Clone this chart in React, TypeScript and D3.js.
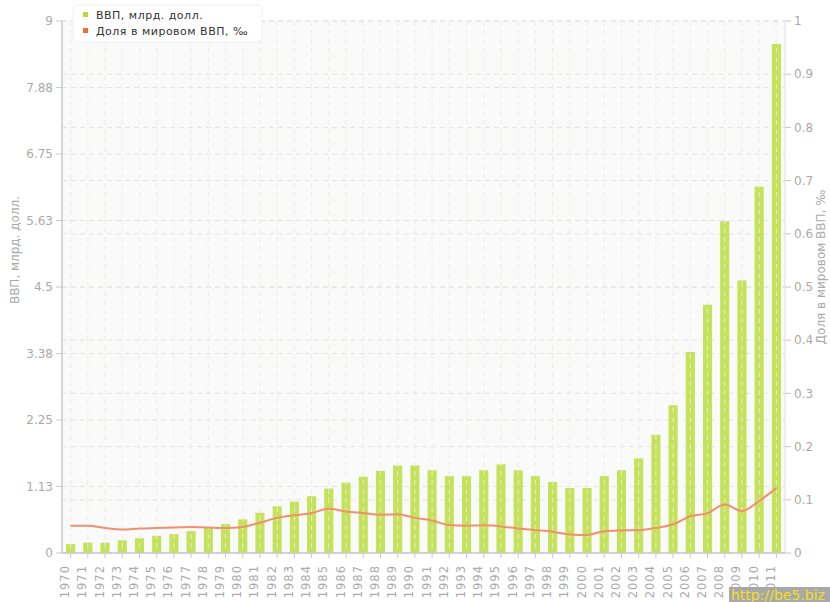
import React from "react";
import * as d3 from "d3";

const years = [
  "1970","1971","1972","1973","1974","1975","1976","1977","1978","1979",
  "1980","1981","1982","1983","1984","1985","1986","1987","1988","1989",
  "1990","1991","1992","1993","1994","1995","1996","1997","1998","1999",
  "2000","2001","2002","2003","2004","2005","2006","2007","2008","2009",
  "2010","2011",
];
const gdp = [
  0.15, 0.175, 0.175, 0.215, 0.25, 0.29, 0.32, 0.37, 0.43, 0.49,
  0.57, 0.68, 0.79, 0.87, 0.96, 1.09, 1.19, 1.29, 1.39, 1.48,
  1.48, 1.4, 1.3, 1.3, 1.4, 1.5, 1.4, 1.3, 1.2, 1.1,
  1.1, 1.3, 1.4, 1.6, 2.0, 2.5, 3.4, 4.2, 5.61, 4.61,
  6.2, 8.61,
];
const share = [
  0.051, 0.051, 0.047, 0.044, 0.046, 0.047, 0.048, 0.049, 0.048, 0.047,
  0.049, 0.057, 0.066, 0.071, 0.075, 0.083, 0.078, 0.075, 0.072, 0.073,
  0.066, 0.061, 0.0525, 0.051, 0.052, 0.05, 0.046, 0.043, 0.04, 0.035,
  0.034, 0.041, 0.0425, 0.043, 0.047, 0.054, 0.069, 0.075, 0.091, 0.079,
  0.098, 0.122,
];
const leftTicks = [0, 1.13, 2.25, 3.38, 4.5, 5.63, 6.75, 7.88, 9];
const leftTickValues = [0, 1.125, 2.25, 3.375, 4.5, 5.625, 6.75, 7.875, 9];
const rightTicks = [0, 0.1, 0.2, 0.3, 0.4, 0.5, 0.6, 0.7, 0.8, 0.9, 1];
const legendLabels = ["ВВП, млрд. долл.", "Доля в мировом ВВП, ‰"];
const leftTitle = "ВВП, млрд. долл.";
const rightTitle = "Доля в мировом ВВП, ‰";

const W = 830;
const H = 602;
const left = 62;
const right = 785;
const top = 21;
const bottom = 553;

const font = "'DejaVu Sans', Verdana, sans-serif";
const gridColor = "#e4e4e4";
const labelColor = "#aaaaaa";
const barColor = "#c6e15a";
const lineColor = "#f09070";

export default function App() {
  const x = d3.scaleBand<string>().domain(years).range([left, right]).padding(0);
  const yL = d3.scaleLinear().domain([0, 9]).range([bottom, top]);
  const yR = d3.scaleLinear().domain([0, 1]).range([bottom, top]);
  const bw = x.bandwidth() * 0.53;
  const cx = (y: string) => (x(y) as number) + x.bandwidth() / 2;

  const line = d3
    .line<number>()
    .x((_, i) => cx(years[i]))
    .y((d) => yR(d))
    .curve(d3.curveMonotoneX);

  return (
    <svg width={W} height={H} style={{ position: "absolute", left: 0, top: 0, display: "block" }}>
      <rect x={0} y={0} width={W} height={H} fill="#ffffff" />
      <rect x={left} y={top} width={right - left} height={bottom - top} fill="#fafafa" />
      {leftTickValues.map((v, i) => (
        <line key={"hl" + i} x1={left} x2={right} y1={yL(v)} y2={yL(v)} stroke={gridColor} strokeDasharray="5,4" />
      ))}
      {rightTicks.map((v, i) => (
        <line key={"hr" + i} x1={left} x2={right} y1={yR(v)} y2={yR(v)} stroke={gridColor} strokeDasharray="5,4" />
      ))}
      {gdp.map((v, i) => (
        <rect
          key={"b" + i}
          x={cx(years[i]) - bw / 2}
          y={yL(v)}
          width={bw}
          height={bottom - yL(v)}
          fill={barColor}
        />
      ))}
      {years.map((yv) => (
        <line
          key={"v" + yv}
          x1={cx(yv)}
          x2={cx(yv)}
          y1={top}
          y2={bottom}
          stroke="#e8eedd"
          strokeOpacity={0.9}
          strokeDasharray="5,4"
        />
      ))}
      <path d={line(share) || ""} fill="none" stroke={lineColor} strokeWidth={2} strokeLinejoin="round" />
      <line x1={left} x2={left} y1={top} y2={bottom} stroke="#c8c8c8" strokeWidth={1.5} />
      <line x1={right} x2={right} y1={top} y2={bottom} stroke="#e0e0e0" strokeWidth={1} />
      <line x1={left} x2={right} y1={bottom} y2={bottom} stroke="#c8c8c8" strokeWidth={1.5} />
      {leftTickValues.map((v, i) => (
        <g key={"lt" + i}>
          <line x1={left - 6} x2={left} y1={yL(v)} y2={yL(v)} stroke="#c8c8c8" />
          <text x={left - 9} y={yL(v)} dy="0.35em" textAnchor="end" fontSize={12} fontFamily={font} fill={labelColor}>
            {leftTicks[i]}
          </text>
        </g>
      ))}
      {rightTicks.map((v, i) => (
        <g key={"rt" + i}>
          <line x1={right} x2={right + 6} y1={yR(v)} y2={yR(v)} stroke="#c8c8c8" />
          <text x={right + 9} y={yR(v)} dy="0.35em" textAnchor="start" fontSize={12} fontFamily={font} fill={labelColor}>
            {v}
          </text>
        </g>
      ))}
      {years.map((yv) => (
        <g key={"xt" + yv}>
          <line x1={cx(yv)} x2={cx(yv)} y1={bottom} y2={bottom + 5} stroke="#c8c8c8" />
          <text
            transform={`translate(${cx(yv) - 1.5},${bottom + 12}) rotate(-90)`}
            textAnchor="end"
            fontSize={11.5}
            letterSpacing={1}
            fontFamily={font}
            fill={labelColor}
          >
            {yv}
          </text>
        </g>
      ))}
      <text
        transform={`translate(19,250) rotate(-90)`}
        textAnchor="middle"
        fontSize={12}
        fontFamily={font}
        fill={labelColor}
      >
        {leftTitle}
      </text>
      <text
        transform={`translate(825,267) rotate(-90)`}
        textAnchor="middle"
        fontSize={12}
        fontFamily={font}
        fill={labelColor}
      >
        {rightTitle}
      </text>
      <rect x={73} y={5} width={189} height={37} rx={5} fill="#ffffff" stroke="#f0f0f0" />
      <rect x={83} y={12} width={5} height={5} fill="#b8d936" />
      <rect x={83} y={28} width={5} height={5} fill="#f06a3a" />
      <text x={96} y={15} dy="0.35em" fontSize={11} fontFamily={font} fill="#333333" letterSpacing={0.5}>
        {legendLabels[0]}
      </text>
      <text x={96} y={31} dy="0.35em" fontSize={11} fontFamily={font} fill="#333333" letterSpacing={0.5}>
        {legendLabels[1]}
      </text>
      <rect x={729} y={587} width={101} height={15} fill="#a8a8a8" />
      <text x={731} y={600} fontSize={14} fontFamily={font} fill="#f0e020">
        http://be5.biz
      </text>
    </svg>
  );
}
